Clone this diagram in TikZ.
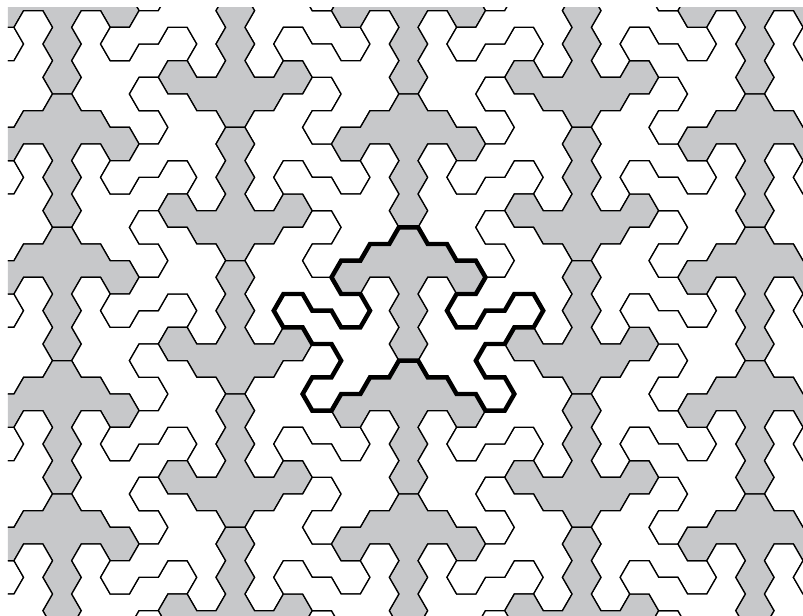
\documentclass[tikz,border=0pt]{standalone}
\definecolor{tilegray}{RGB}{199,200,202}
\begin{document}
\begin{tikzpicture}[x=0.5cm, y=0.5cm, line width=0.95pt,
  graytile/.style={draw, fill=tilegray},
  whitetile/.style={draw, fill=white},
  boldline/.style={draw, line width=3.3pt},
  tripod/.pic={\path[pic actions] (120:1)
    \foreach \a in {0,300,0,300,0,300,240,180,120,180,240,300,240,300,240,180,
                    120,60,120,60,120,180,240,180,120,60,0,60,0} {-- ++(\a:1)} -- cycle;}]
\useasboundingbox (-21.226,-19.278) rectangle (20.499,12.679);
\clip (-20.811,-19.278) rectangle (20.499,12.263);
% up tile with its two white partners, then the same block turned round
\foreach \k in {-2,...,1} {
  \foreach \l in {-3,...,4} {
    \pgfmathsetmacro\x{18*\k}
    \pgfmathsetmacro\y{-6.9282*\l}
    \pic[graytile] at (\x,\y) {tripod};
    \pic[whitetile, rotate=-120] at ({\x-1.5},{\y-6.0622}) {tripod};
    \pic[whitetile, rotate=120] at ({\x+1.5},{\y-6.0622}) {tripod};
    \pic[graytile, rotate=180] at ({\x+9},\y) {tripod};
    \pic[whitetile, rotate=60] at ({\x+10.5},{\y-0.8660}) {tripod};
    \pic[whitetile, rotate=-60] at ({\x+7.5},{\y-0.8660}) {tripod};
  }
}
% outline of the marked block
\draw[boldline] (120:1)
  \foreach \a in {240,180,240,180,240,300,0,300,240,180,120,180,120,180,240,
                  300,0,300,0,300,240,180,240,300,0,60,0,60,0,60,0,
                  300,0,300,0,300,0,60,120,180,120,60,0,60,0,60,120,
                  180,240,180,240,180,120,60,0,60,120,180,120,180,120} {-- ++(\a:1)} -- cycle;
\end{tikzpicture}
\end{document}
